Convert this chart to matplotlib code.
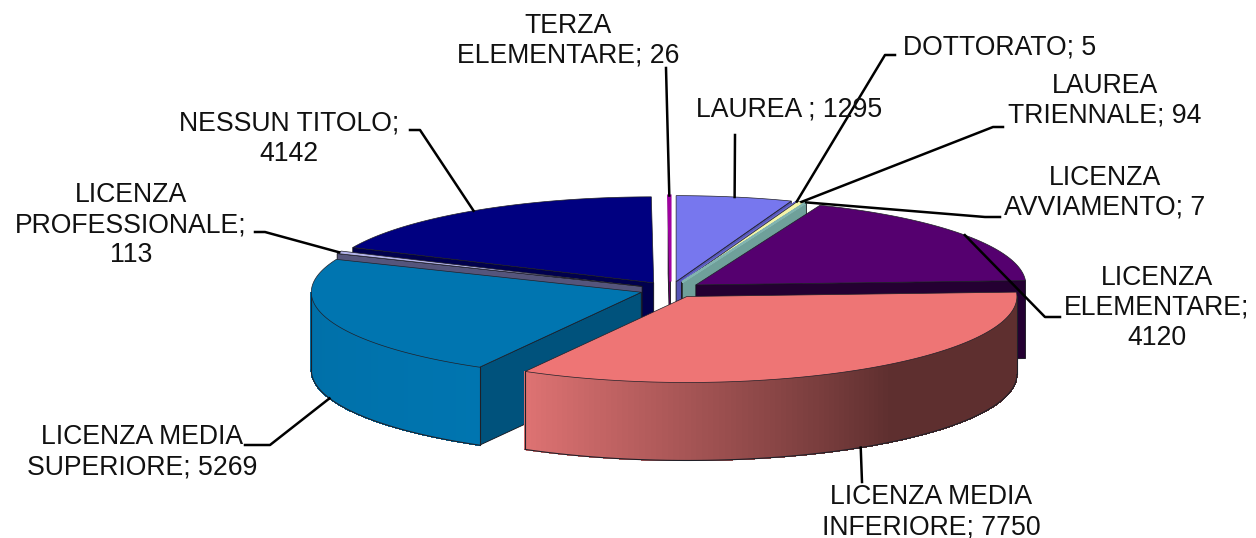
import numpy as np
import matplotlib
matplotlib.use('Agg')
import matplotlib.pyplot as plt
from matplotlib.colors import to_rgb
from matplotlib.patches import Polygon

plt.rcParams['font.family'] = ['Liberation Sans', 'DejaVu Sans']

# Data, clockwise from 12 o'clock
names = ['LAUREA', 'DOTTORATO', 'LAUREA TRIENNALE', 'LICENZA AVVIAMENTO', 'LICENZA ELEMENTARE',
         'LICENZA MEDIA INFERIORE', 'LICENZA MEDIA SUPERIORE', 'LICENZA PROFESSIONALE',
         'NESSUN TITOLO', 'TERZA ELEMENTARE']
values = [1295, 5, 94, 7, 4120, 7750, 5269, 113, 4142, 26]
labels = ['LAUREA ; 1295', 'DOTTORATO; 5', 'LAUREA\nTRIENNALE; 94', 'LICENZA\nAVVIAMENTO; 7',
          'LICENZA\nELEMENTARE;\n4120', 'LICENZA MEDIA\nINFERIORE; 7750', 'LICENZA MEDIA\nSUPERIORE; 5269',
          'LICENZA\nPROFESSIONALE;\n113', 'NESSUN TITOLO;\n4142', 'TERZA\nELEMENTARE; 26']

# Colours: top face, radial side, curved side from clockwise start to end
top_colors = ['#7777ee', '#6a6ad0', '#f4f4a8', '#82b4b0', '#55006f', '#ee7575', '#0075b0', '#b4b4ea', '#000080', '#a000a0']
side_colors = ['#5555b5', '#4a4a90', '#b8b880', '#6fa09a', '#240032', '#7a3a3a', '#00527c', '#55557c', '#00004e', '#600060']
curve_start = ['#5555b5', '#4a4a90', '#b8b880', '#6fa09a', '#240032', '#5e2f2f', '#0075b0', '#55557c', '#00004e', '#600060']
curve_end = ['#5555b5', '#4a4a90', '#b8b880', '#6fa09a', '#240032', '#de7272', '#006da4', '#55557c', '#00004e', '#600060']

# Pie geometry in pixels
cx, cy = 670.6, 289.6
rx, ry = 330, 86
depth = 78
explode = 31

# Label centres and leader elbows in pixels
label_pos = [(789, 109), (1000, 48), (1105, 101), (1105, 193), (1157, 308), (931, 512), (142, 452), (131, 225), (289, 139), (568, 41)]
elbows = [[(735, 135)], [(895, 55), (885, 55)], [(1003, 127), (993, 127)], [(1000, 217), (985, 217)],
          [(1060, 317), (1045, 317)], [(862, 482)], [(245, 445), (270, 445)], [(255, 232), (265, 232)],
          [(410, 130), (420, 130)], [(666, 68)]]

# Painter's order, back to front
draw_order = [8, 9, 0, 1, 2, 3, 4, 7, 6, 5]

fig = plt.figure(figsize=(12.56, 5.38), dpi=100)
ax = fig.add_axes([0, 0, 1, 1])
ax.set_xlim(0, 1256)
ax.set_ylim(538, 0)
ax.axis('off')

fractions = np.array(values) / sum(values) * 360
ends = np.cumsum(fractions)
starts = ends - fractions
mids = (starts + ends) / 2


def apex(i):
    m = np.radians(mids[i])
    return cx + explode * np.sin(m), cy - explode * ry / rx * np.cos(m)


def rim(i, theta):
    ax_, ay_ = apex(i)
    t = np.radians(theta)
    return ax_ + rx * np.sin(t), ay_ - ry * np.cos(t)


def radial_face(i, theta):
    a = apex(i)
    p = rim(i, theta)
    pts = [a, p, (p[0], p[1] + depth), (a[0], a[1] + depth)]
    ax.add_patch(Polygon(pts, closed=True, facecolor=side_colors[i], edgecolor='#101018', linewidth=0.6, zorder=order + 1))


for order, i in enumerate(draw_order):
    order = order * 10
    t1, t2 = starts[i], ends[i]

    # flat sides, only those turned to the viewer
    if np.sin(np.radians(t1)) < 0:
        radial_face(i, t1)
    if np.sin(np.radians(t2)) > 0:
        radial_face(i, t2)

    # curved side, front half only, drawn as strips for the shading
    lo, hi = max(t1, 90), min(t2, 270)
    if hi > lo:
        grid = np.linspace(lo, hi, int(hi - lo) + 2)
        c0, c1 = np.array(to_rgb(curve_start[i])), np.array(to_rgb(curve_end[i]))
        for a, b in zip(grid[:-1], grid[1:]):
            f = np.clip(((a + b) / 2 - t1) / (t2 - t1), 0, 1)
            # dark part stays flat, then ramps up to the light end
            f = np.clip((f - 0.45) / 0.55, 0, 1) if i == 5 else f
            col = c0 + (c1 - c0) * f
            pa, pb = rim(i, a), rim(i, b)
            pts = [pa, pb, (pb[0], pb[1] + depth), (pa[0], pa[1] + depth)]
            ax.add_patch(Polygon(pts, closed=True, facecolor=col, edgecolor=col, linewidth=0.5,
                                 antialiased=False, zorder=order + 2))
        arc = [rim(i, t) for t in grid]
        arc_x = [p[0] for p in arc]
        arc_y = [p[1] + depth for p in arc]
        ax.plot(arc_x, arc_y, color='#202028', linewidth=0.8, zorder=order + 3)
        for t in (lo, hi):
            p = rim(i, t)
            ax.plot([p[0], p[0]], [p[1], p[1] + depth], color='#202028', linewidth=0.8, zorder=order + 3)

    # top face, thin slices keep their own colour on the edge
    grid = np.linspace(t1, t2, max(int(t2 - t1) * 2, 2) + 1)
    pts = [apex(i)] + [rim(i, t) for t in grid]
    thin = t2 - t1 < 1
    ax.add_patch(Polygon(pts, closed=True, facecolor=top_colors[i], edgecolor=top_colors[i] if thin else '#202028',
                         linewidth=1.5 if thin else 0.5, zorder=order + 4))

# Leader lines end on the rim at the middle of each slice
for i in range(len(values)):
    p = rim(i, mids[i])
    end_y = p[1] + depth if np.cos(np.radians(mids[i])) < 0 else p[1]
    line = elbows[i] + [(p[0], end_y)]
    ax.plot([q[0] for q in line], [q[1] for q in line], color='black', linewidth=1.8, zorder=200,
            solid_joinstyle='round')

for txt, pos in zip(labels, label_pos):
    ax.text(pos[0], pos[1], txt, ha='center', va='center', fontsize=19.2, linespacing=1.2,
            color='#111111', zorder=210)

fig.savefig('out.png', dpi=100, facecolor='white')
